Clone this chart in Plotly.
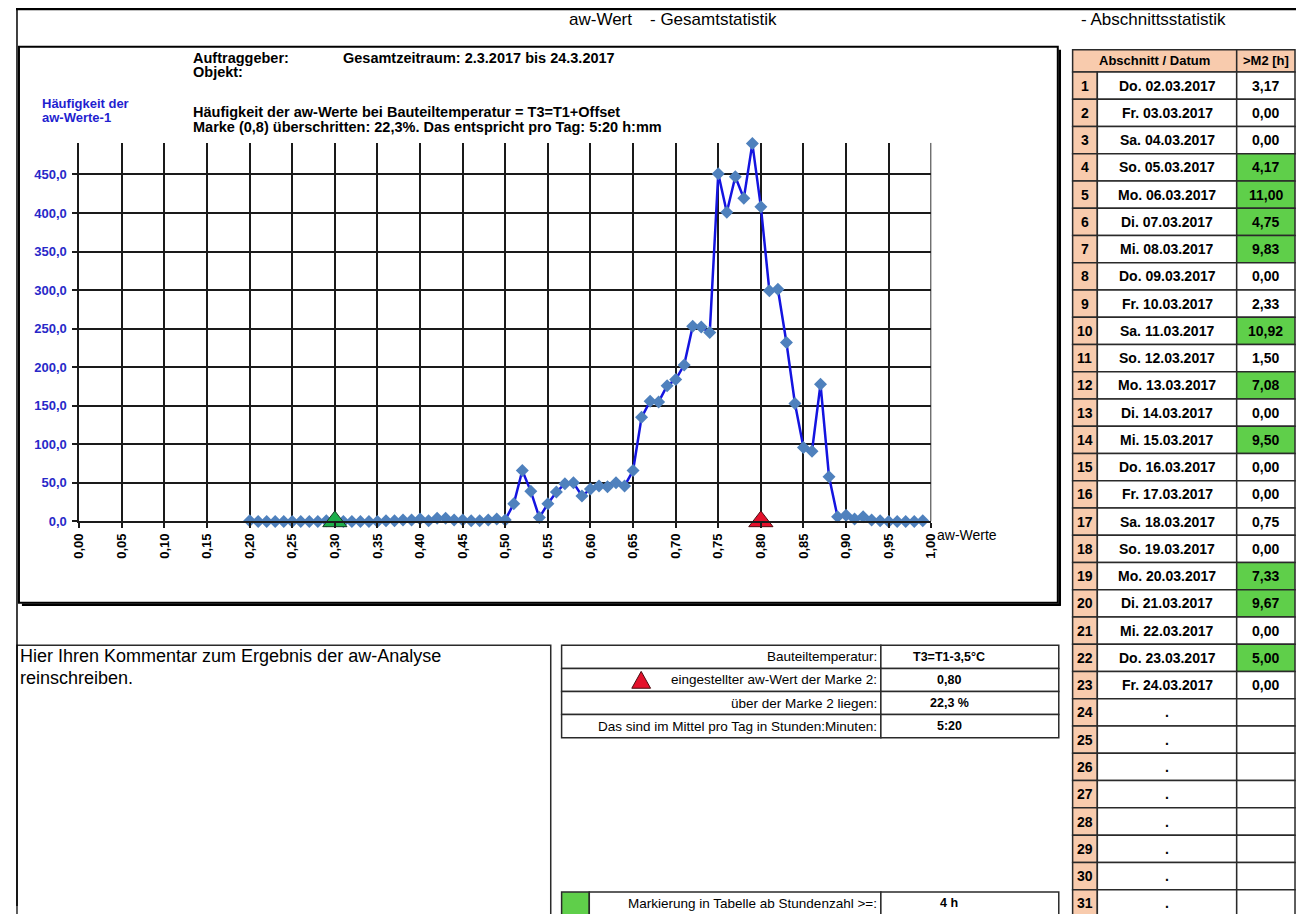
import plotly.graph_objects as go

# The page body has an 8px margin on every side, so the figure is sized to
# exactly fill the window inside it; screen coordinates are converted with that offset.
W, H = 1295, 906
OFF = 8
def X(px):
    return (px - OFF) / W
def Y(py):
    return 1 - (py - OFF) / H

# ---------------- data ----------------
aw_values = [0.20, 0.21, 0.22, 0.23, 0.24, 0.25, 0.26, 0.27, 0.28, 0.29,
             0.30, 0.31, 0.32, 0.33, 0.34, 0.35, 0.36, 0.37, 0.38, 0.39,
             0.40, 0.41, 0.42, 0.43, 0.44, 0.45, 0.46, 0.47, 0.48, 0.49,
             0.50, 0.51, 0.52, 0.53, 0.54, 0.55, 0.56, 0.57, 0.58, 0.59,
             0.60, 0.61, 0.62, 0.63, 0.64, 0.65, 0.66, 0.67, 0.68, 0.69,
             0.70, 0.71, 0.72, 0.73, 0.74, 0.75, 0.76, 0.77, 0.78, 0.79,
             0.80, 0.81, 0.82, 0.83, 0.84, 0.85, 0.86, 0.87, 0.88, 0.89,
             0.90, 0.91, 0.92, 0.93, 0.94, 0.95, 0.96, 0.97, 0.98, 0.99]
counts = [1, 0, 0, 0, 0, 0, 0, 0, 0, 1,
          0, 0, 0, 0, 0, 0, 1, 1, 2, 2,
          3, 1, 4, 4, 2, 2, 1, 1, 2, 3,
          2, 23, 66, 39, 5, 23, 38, 49, 50, 33,
          42, 46, 45, 50, 46, 66, 135, 156, 155, 176,
          184, 203, 253, 252, 245, 451, 401, 447, 419, 490,
          408, 299, 301, 232, 153, 96, 91, 178, 58, 6,
          8, 3, 6, 2, 1, 0, 0, 0, 0, 1]

x_tick_vals = [0.00, 0.05, 0.10, 0.15, 0.20, 0.25, 0.30, 0.35, 0.40, 0.45, 0.50,
               0.55, 0.60, 0.65, 0.70, 0.75, 0.80, 0.85, 0.90, 0.95, 1.00]
x_tick_labels = ["0,00", "0,05", "0,10", "0,15", "0,20", "0,25", "0,30", "0,35", "0,40",
                 "0,45", "0,50", "0,55", "0,60", "0,65", "0,70", "0,75", "0,80", "0,85",
                 "0,90", "0,95", "1,00"]
y_tick_vals = [0, 50, 100, 150, 200, 250, 300, 350, 400, 450]
y_tick_labels = ["0,0", "50,0", "100,0", "150,0", "200,0", "250,0", "300,0", "350,0",
                 "400,0", "450,0"]

marke1_aw = [0.30]
marke2_aw = [0.80]

row_numbers = list(range(1, 32))
days = ["Do. 02.03.2017", "Fr. 03.03.2017", "Sa. 04.03.2017", "So. 05.03.2017",
        "Mo. 06.03.2017", "Di. 07.03.2017", "Mi. 08.03.2017", "Do. 09.03.2017",
        "Fr. 10.03.2017", "Sa. 11.03.2017", "So. 12.03.2017", "Mo. 13.03.2017",
        "Di. 14.03.2017", "Mi. 15.03.2017", "Do. 16.03.2017", "Fr. 17.03.2017",
        "Sa. 18.03.2017", "So. 19.03.2017", "Mo. 20.03.2017", "Di. 21.03.2017",
        "Mi. 22.03.2017", "Do. 23.03.2017", "Fr. 24.03.2017",
        ".", ".", ".", ".", ".", ".", ".", "."]
hours_above_m2 = [3.17, 0.00, 0.00, 4.17, 11.00, 4.75, 9.83, 0.00, 2.33, 10.92,
                  1.50, 7.08, 0.00, 9.50, 0.00, 0.00, 0.75, 0.00, 7.33, 9.67,
                  0.00, 5.00, 0.00]
mark_threshold_h = 4

stats_labels = ["Bauteiltemperatur:", "eingestellter aw-Wert der Marke 2:",
                "über der Marke 2 liegen:", "Das sind im Mittel pro Tag in Stunden:Minuten:"]
stats_values = ["T3=T1-3,5°C", "0,80", "22,3 %", "5:20"]
threshold_label = "Markierung in Tabelle ab Stundenzahl >=:"
threshold_value = "4 h"

# ---------------- styles ----------------
FONT = "Liberation Sans, Arial, sans-serif"
GRID = "#1a1a1a"
PEACH = "#F8CBAD"
GREEN = "#5FCF4A"
BORDER = "#2a2a2a"

fig = go.Figure()

fig.add_trace(go.Scatter(
    x=aw_values, y=counts, mode="lines+markers",
    line=dict(color="#1414E0", width=2.5),
    marker=dict(symbol="diamond", size=10, color="#4F81BD"),
    cliponaxis=False, showlegend=False, hoverinfo="x+y"))

fig.add_trace(go.Scatter(
    x=marke1_aw, y=[0] * len(marke1_aw), mode="markers",
    marker=dict(symbol="triangle-up", size=21, color="#1DAF4B",
                line=dict(color="#14361f", width=1)),
    cliponaxis=False, showlegend=False))
fig.add_trace(go.Scatter(
    x=marke2_aw, y=[0] * len(marke2_aw), mode="markers",
    marker=dict(symbol="triangle-up", size=21, color="#E4112B",
                line=dict(color="#4a0b10", width=1)),
    cliponaxis=False, showlegend=False))

plot_left, plot_right = 72, 934
plot_bottom, plot_top = 526, 144
y_max = 491

fig.update_layout(
    width=W, height=H, margin=dict(l=0, r=0, t=0, b=0),
    paper_bgcolor="white", plot_bgcolor="white",
    font=dict(family=FONT, color="black"),
    xaxis=dict(domain=[X(plot_left), X(plot_right)], range=[0, 1],
               tickvals=x_tick_vals, ticktext=x_tick_labels, tickangle=-90,
               showgrid=True, gridcolor=GRID, gridwidth=1.8,
               showline=True, linecolor=GRID, linewidth=1.8,
               ticks="outside", ticklen=5, tickcolor=GRID, tickwidth=1.8,
               zeroline=False,
               tickfont=dict(family=FONT, size=13, color="black", weight="bold")),
    yaxis=dict(domain=[Y(plot_bottom), Y(plot_top)], range=[0, y_max],
               tickvals=y_tick_vals, ticktext=y_tick_labels,
               showgrid=True, gridcolor=GRID, gridwidth=1.8,
               showline=True, linecolor=GRID, linewidth=1.8,
               ticks="outside", ticklen=5, tickcolor=GRID, tickwidth=1.8,
               ticklabelstandoff=3,
               zeroline=False,
               tickfont=dict(family=FONT, size=13, color="#2828C8", weight="bold")),
)

shapes = []
annotations = []

def rect(x0, y0, x1, y1, fill=None, color=BORDER, width=1.5):
    shapes.append(dict(type="rect", xref="paper", yref="paper",
                       x0=X(x0), x1=X(x1), y0=Y(y1), y1=Y(y0),
                       line=dict(color=color, width=width),
                       fillcolor=fill if fill else "rgba(0,0,0,0)", layer="below"))

def line(x0, y0, x1, y1, color="black", width=1.5):
    shapes.append(dict(type="line", xref="paper", yref="paper",
                       x0=X(x0), x1=X(x1), y0=Y(y0), y1=Y(y1),
                       line=dict(color=color, width=width)))

def text(x, y, s, size=12, anchor="left", bold=False, color="black"):
    annotations.append(dict(xref="paper", yref="paper", x=X(x), y=Y(y),
                            text=f"<b>{s}</b>" if bold else s, showarrow=False,
                            xanchor=anchor, yanchor="middle", borderpad=0,
                            font=dict(family=FONT, size=size, color=color)))

# right border of grid at 1.00
shapes.append(dict(type="line", xref="x", yref="y", x0=1, x1=1, y0=0, y1=y_max,
                   line=dict(color=GRID, width=1.8)))

# page frame
line(8, 9, 1303, 9, width=2.5)
line(9, 9, 9, 914, width=1.5)

# chart box with shadow
rect(11, 47, 1062, 608, color="black", width=2)
line(14, 610, 1065, 610, color="black", width=2.5)
line(1064, 50, 1064, 611, color="black", width=2.5)

# header texts
text(566, 20, "aw-Wert", size=17)
text(648, 20, "- Gesamtstatistik", size=17)
text(1084, 20, "- Abschnittsstatistik", size=17)

# chart texts
text(186, 58, "Auftraggeber:", size=14.5, bold=True)
text(338, 58, "Gesamtzeitraum: 2.3.2017 bis 24.3.2017", size=14.5, bold=True)
text(186, 73, "Objekt:", size=14.5, bold=True)
text(186, 113, "Häufigkeit der aw-Werte bei Bauteiltemperatur = T3=T1+Offset", size=14.5, bold=True)
text(186, 128.5, "Marke (0,8) überschritten: 22,3%. Das entspricht pro Tag: 5:20 h:mm", size=14.5, bold=True)
text(33, 104, "Häufigkeit der", size=13, bold=True, color="#1F1FD0")
text(33, 118, "aw-Werte-1", size=13, bold=True, color="#1F1FD0")
text(939, 540, "aw-Werte", size=14)

# ---------------- right table ----------------
tl, c1, c2, tr = 1077, 1102, 1243, 1302
head_top, row_top, row_h = 50, 72.5, 27.5
rect(tl, head_top, c2, row_top, fill=PEACH)
rect(c2, head_top, tr, row_top, fill=PEACH)
text((tl + c2) / 2, (head_top + row_top) / 2, "Abschnitt / Datum", size=13, bold=True, anchor="center")
text((c2 + tr) / 2, (head_top + row_top) / 2, ">M2 [h]", size=13, bold=True, anchor="center")
for i, n in enumerate(row_numbers):
    y0 = row_top + i * row_h
    y1 = y0 + row_h
    rect(tl, y0, c1, y1, fill=PEACH)
    rect(c1, y0, c2, y1, fill="white")
    if i < len(hours_above_m2):
        h = hours_above_m2[i]
        fill = GREEN if h >= mark_threshold_h else "white"
        rect(c2, y0, tr, y1, fill=fill)
        text((c2 + tr) / 2, (y0 + y1) / 2, f"{h:.2f}".replace(".", ","), size=14,
             bold=True, anchor="center")
    else:
        rect(c2, y0, tr, y1, fill="white")
    text((tl + c1) / 2, (y0 + y1) / 2, str(n), size=14, bold=True, anchor="center")
    text((c1 + c2) / 2, (y0 + y1) / 2, days[i], size=14, bold=True, anchor="center")

# ---------------- comment box ----------------
rect(9, 651, 549, 930, color=BORDER, width=1.5)
text(11, 662, "Hier Ihren Kommentar zum Ergebnis der aw-Analyse", size=18)
text(11, 684, "reinschreiben.", size=18)

# ---------------- stats table ----------------
sl, ss, sr = 560, 883, 1063
st_top, st_h = 651, 23.3
val_x = 952
for i, (lab, val) in enumerate(zip(stats_labels, stats_values)):
    y0 = st_top + i * st_h
    y1 = y0 + st_h
    rect(sl, y0, ss, y1, fill="white")
    rect(ss, y0, sr, y1, fill="white")
    text(ss - 3, (y0 + y1) / 2, lab, size=13.5, anchor="right")
    text(val_x, (y0 + y1) / 2, val, size=12.5, bold=True, anchor="center")
# red triangle icon in row 2
ty0 = st_top + st_h
shapes.append(dict(type="path", xref="paper", yref="paper",
                   path=f"M {X(631)} {Y(ty0 + 20)} L {X(650)} {Y(ty0 + 20)} L {X(640.5)} {Y(ty0 + 3)} Z",
                   fillcolor="#E4112B", line=dict(color="#4a0b10", width=1)))

gt = 900
rect(sl, gt, 588, 930, fill=GREEN)
rect(588, gt, ss, 930, fill="white")
rect(ss, gt, sr, 930, fill="white")
text(ss - 3, gt + 11, threshold_label, size=13.5, anchor="right")
text(val_x, gt + 11, threshold_value, size=12.5, bold=True, anchor="center")

fig.update_layout(shapes=shapes, annotations=annotations)
fig.write_html("out.html")
